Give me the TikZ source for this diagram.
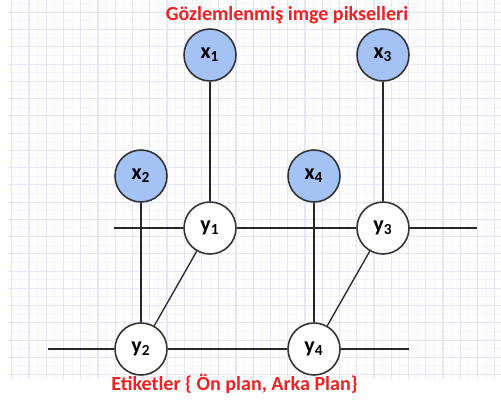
\documentclass[tikz,border=0pt]{standalone}
\usepackage{fontspec}
\setmainfont{Carlito}
\usepackage{tikz}

\definecolor{obsblue}{RGB}{164,194,244}
\definecolor{rimgray}{RGB}{51,51,51}
\definecolor{titlered}{RGB}{242,32,32}
\definecolor{gridminor}{RGB}{243,243,253}
\definecolor{gridmajor}{RGB}{230,230,250}

\begin{document}
\begin{tikzpicture}
    \tikzset{pixel/.style = {shape=circle,draw=rimgray,line width=0.9pt,minimum size=1.04cm,inner sep=0pt,
                             font=\fontsize{12.5}{14}\selectfont\bfseries}}
    \tikzset{observed/.style = {pixel,fill=obsblue}}
    \tikzset{hidden/.style = {pixel,fill=white}}
    \tikzset{edge/.style = {line width=0.75pt,draw=black!85}}
    \tikzset{caption/.style = {text=titlered,font=\fontsize{11.4}{13}\selectfont\bfseries}}

    \useasboundingbox (0,0) rectangle (10.02,-8.02);

    % background grid paper
    \begin{scope}[shift={(0.58,-0.246)}]
      \draw[gridminor, line width=0.5pt, step=0.1725] (-0.42,0.246) grid (9.44,-7.34);
      \draw[gridmajor, line width=0.6pt, step=0.345] (-0.42,0.246) grid (9.44,-7.34);
    \end{scope}

    \node[observed] (x1) at (4.2, -1.1) {x\textsubscript{1}};
    \node[observed] (x3) at (7.66, -1.1) {x\textsubscript{3}};
    \node[observed] (x2) at (2.82, -3.52) {x\textsubscript{2}};
    \node[observed] (x4) at (6.28, -3.52) {x\textsubscript{4}};

    \node[hidden] (y1) at (4.2, -4.56) {y\textsubscript{1}};
    \node[hidden] (y3) at (7.66, -4.56) {y\textsubscript{3}};
    \node[hidden] (y2) at (2.82, -6.98) {y\textsubscript{2}};
    \node[hidden] (y4) at (6.28, -6.98) {y\textsubscript{4}};

    \coordinate (l1) at (2.28, -4.56);
    \coordinate (r1) at (9.54, -4.56);
    \coordinate (l2) at (0.96, -6.98);
    \coordinate (r2) at (8.18, -6.98);

    % label chains
    \draw[edge] (l1) -- (y1) -- (y3) -- (r1);
    \draw[edge] (l2) -- (y2) -- (y4) -- (r2);
    \draw[edge] (y1) -- (y2);
    \draw[edge] (y3) -- (y4);

    % observations
    \draw[edge] (x1) -- (y1);
    \draw[edge] (x3) -- (y3);
    \draw[edge] (x2) -- (y2);
    \draw[edge] (x4) -- (y4);

    \node[caption] (top) at (5.74, -0.3) {Gözlemlenmiş imge pikselleri};
    \node[caption] (bottom) at (4.69, -7.68) {Etiketler \{ Ön plan, Arka Plan\}};

  \end{tikzpicture}
\end{document}
